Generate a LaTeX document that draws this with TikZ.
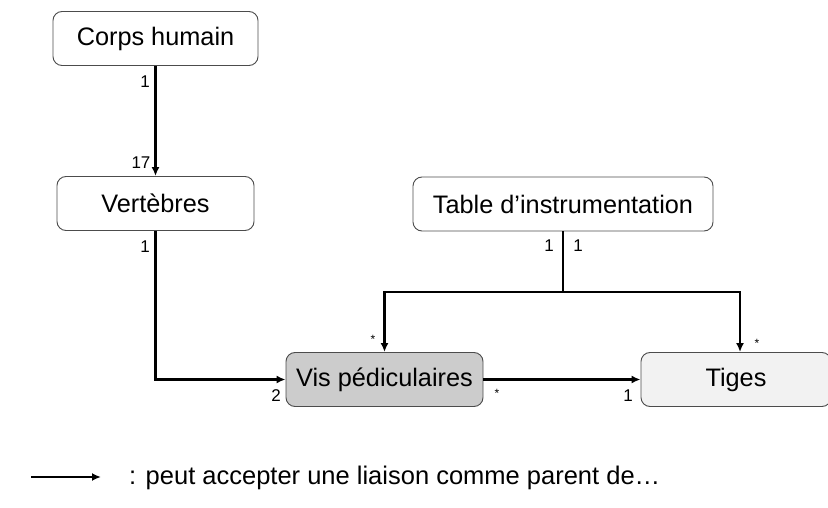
\documentclass[tikz,border=0pt]{standalone}
\usepackage{fontspec}
\setmainfont{Liberation Sans}
\usetikzlibrary{arrows.meta}
\begin{document}
\begin{tikzpicture}[x=1pt,y=-1pt,
  box/.style={draw=black!70, line width=0.9pt, rounded corners=9pt, minimum height=54pt, inner sep=0pt, font=\fontsize{25.3}{29}\selectfont},
  link/.style={line width=2.8pt, -{Latex[length=9pt,width=8pt]}},
  plain/.style={line width=2.8pt},
  card/.style={inner sep=0pt, font=\fontsize{17}{19}\selectfont},
  starlbl/.style={inner sep=0pt, font=\fontsize{12}{12}\selectfont}]
\useasboundingbox (0,0) rectangle (828,508);
\node[box, minimum width=205pt] (corps) at (155.5,38.5) {Corps humain};
\node[box, minimum width=197pt] (vert) at (155.5,203.5) {Vertèbres};
\node[box, minimum width=300pt] (table) at (563,204) {Table d’instrumentation};
\node[box, minimum width=197pt, fill=black!20] (vis) at (384.5,379.5) {Vis pédiculaires};
\node[box, minimum width=190pt, fill=black!5] (tiges) at (736,379.5) {Tiges};
\coordinate (j) at (563,292);
\draw[link] (corps.south) -- (vert.north);
\draw[link] (vert.south) |- (vis.west);
\draw[plain] (table.south) -- (j);
\draw[link] (j) -| (vis.north);
\draw[link] (j) -| ([xshift=4pt]tiges.north);
\draw[link] (vis.east) -- (tiges.west);
\node[card] (c1) at (145,82) {1};
\node[card] (c2) at (141,163) {17};
\node[card] (c3) at (145,247) {1};
\node[card] (c4) at (276,396) {2};
\node[card] (c5) at (549,246) {1};
\node[card] (c6) at (578,246) {1};
\node[card] (c7) at (628,396) {1};
\node[starlbl] (s1) at (373,339) {*};
\node[starlbl] (s2) at (757,343) {*};
\node[starlbl] (s3) at (497,393) {*};
\coordinate (legA) at (31,477);
\coordinate (legB) at (101,477);
\draw[line width=2.2pt, -{Latex[length=9pt,width=8pt]}] (legA) -- (legB);
\node[anchor=west, inner sep=0pt, font=\fontsize{25.5}{29}\selectfont] (legtxt) at (129,478) {: peut accepter une liaison comme parent de…};
\end{tikzpicture}
\end{document}
